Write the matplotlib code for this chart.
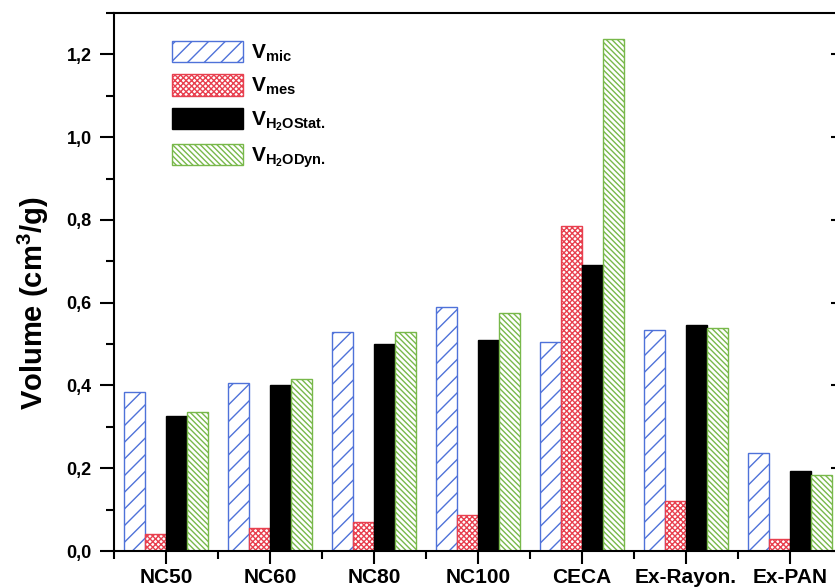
import numpy as np
import matplotlib
matplotlib.use("Agg")
import matplotlib.pyplot as plt
from matplotlib.ticker import MultipleLocator, FixedLocator

plt.rcParams['font.family'] = ['Liberation Sans', 'DejaVu Sans']
plt.rcParams['font.weight'] = 'bold'
plt.rcParams['mathtext.fontset'] = 'custom'
plt.rcParams['mathtext.rm'] = 'Liberation Sans:bold'
plt.rcParams['mathtext.bf'] = 'Liberation Sans:bold'
plt.rcParams['mathtext.it'] = 'Liberation Sans:bold'
plt.rcParams['hatch.linewidth'] = 1.0

# data
categories = ['NC50', 'NC60', 'NC80', 'NC100', 'CECA', 'Ex-Rayon.', 'Ex-PAN']
v_mic = [0.385, 0.405, 0.530, 0.590, 0.505, 0.535, 0.236]
v_mes = [0.040, 0.055, 0.070, 0.088, 0.785, 0.120, 0.030]
v_stat = [0.326, 0.400, 0.500, 0.510, 0.692, 0.545, 0.194]
v_dyn = [0.335, 0.415, 0.530, 0.575, 1.236, 0.540, 0.184]
series_labels = [r'$\mathrm{V}_{\mathrm{mic}}$', r'$\mathrm{V}_{\mathrm{mes}}$',
                 r'$\mathrm{V}_{\mathrm{H_2OStat.}}$', r'$\mathrm{V}_{\mathrm{H_2ODyn.}}$']
ytick_vals = [0.0, 0.2, 0.4, 0.6, 0.8, 1.0, 1.2]
ytick_labels = ['0,0', '0,2', '0,4', '0,6', '0,8', '1,0', '1,2']

fig = plt.figure(figsize=(8.35, 5.88), dpi=100)
ax = fig.add_axes([0.1365, 0.0629, 0.872, 0.915])

x = np.arange(len(categories))
w = 0.2
styles = [
    dict(facecolor='white', edgecolor='#4f72d9', hatch='//'),
    dict(facecolor='white', edgecolor='#e8404f', hatch='xxxxxx'),
    dict(facecolor='black', edgecolor='black', hatch=None),
    dict(facecolor='white', edgecolor='#78b84a', hatch='\\' * 6),
]
all_series = [v_mic, v_mes, v_stat, v_dyn]
for i, (vals, st, lab) in enumerate(zip(all_series, styles, series_labels)):
    ax.bar(x + (i - 1.5) * w, vals, width=w, linewidth=1.0, label=lab, **st)

ax.set_xlim(-0.5, 6.5)
ax.set_ylim(0, 1.3)

ax.set_xticks(x)
ax.set_xticklabels(categories, fontsize=15, fontweight='bold')
ax.xaxis.set_minor_locator(FixedLocator(np.arange(-0.5, 7, 1.0)))
ax.set_yticks(ytick_vals)
ax.set_yticklabels(ytick_labels, fontsize=13, fontweight='bold')
ax.yaxis.set_minor_locator(MultipleLocator(0.1))

ax.tick_params(which='major', direction='out', length=10, width=1.5, pad=6)
ax.tick_params(which='minor', direction='out', length=6, width=1.5)
ax.tick_params(axis='x', which='major', length=9, pad=3)

for s in ax.spines.values():
    s.set_linewidth(1.5)

sec = ax.secondary_yaxis('right')
sec.set_yticks(ytick_vals)
sec.yaxis.set_minor_locator(MultipleLocator(0.1))
sec.tick_params(which='major', direction='in', length=8, width=1.5, labelright=False)
sec.tick_params(which='minor', direction='in', length=4, width=1.5)
sec.spines['right'].set_linewidth(1.5)

ax.set_ylabel('Volume (cm$^3$/g)', fontsize=21, fontweight='bold')
ax.yaxis.set_label_coords(-0.086, 0.46)

ax.legend(loc='upper left', bbox_to_anchor=(0.08, 0.948), frameon=False,
          fontsize=15, handlelength=3.4, handleheight=1.2, labelspacing=0.5,
          handletextpad=0.4, borderpad=0, borderaxespad=0)

fig.savefig('out.png', dpi=100)
